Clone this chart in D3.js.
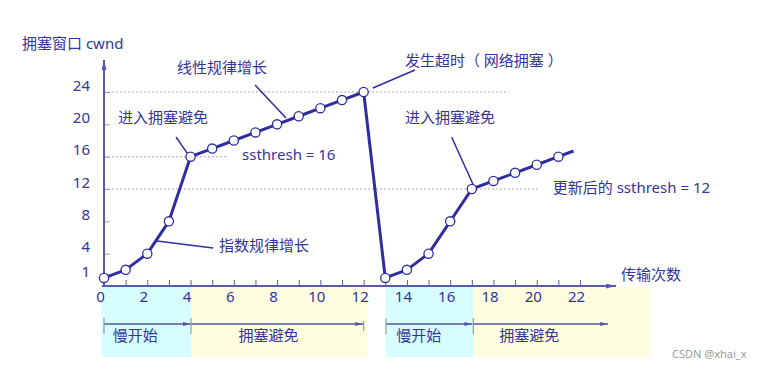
<!DOCTYPE html>
<html>
<head>
<meta charset="utf-8">
<script src="https://cdn.jsdelivr.net/npm/d3@7"></script>
<style>
  body { margin: 0; background: #fff; }
  svg text { font-family: "Noto Sans", "Noto Sans CJK SC", sans-serif; }
</style>
</head>
<body>
<div id="mainChart"></div>
<script>
// transmission rounds and congestion window values
const rounds = [0, 1, 2, 3, 4, 5, 6, 7, 8, 9, 10, 11, 12, 13, 14, 15, 16, 17, 18, 19, 20, 21];
const cwnd   = [1, 2, 4, 8, 16, 17, 18, 19, 20, 21, 22, 23, 24, 1, 2, 4, 8, 12, 13, 14, 15, 16];
// line keeps going a bit past the last marker
const tailRound = 21.7;
const tailCwnd = 16.7;

const yTickValues = [1, 4, 8, 12, 16, 20, 24];
const xTickValues = [0, 1, 2, 3, 4, 5, 6, 7, 8, 9, 10, 11, 12, 13, 14, 15, 16, 17, 18, 19, 20, 21, 22];

// threshold guide lines: value, end round
const guideValues = [24, 16, 12];
const guideEnds = [18.7, 5.7, 20.1];

// phases under the axis
const phaseNames = ['慢开始', '拥塞避免', '慢开始', '拥塞避免'];
const phaseStart = [-0.1, 4.02, 13.03, 17.07];
const phaseEnd = [4.02, 12.17, 17.07, 25.25];
const phaseArrowStart = [0, 4.02, 13.03, 17.07];
const phaseArrowEnd = [4.0, 11.98, 17.03, 23.3];
const phaseLabelX = [1.45, 7.6, 14.55, 19.65];
const phaseColors = ['#d7fdfe', '#fefde0', '#d7fdfe', '#fefde0'];

// annotation texts (round, cwnd of the text start) and their leader lines
const noteTexts = ['线性规律增长', '发生超时（ 网络拥塞 ）', '进入拥塞避免', 'ssthresh = 16',
                   '指数规律增长', '进入拥塞避免', '更新后的 ssthresh = 12', '传输次数'];
const noteX = [3.37, 13.91, 0.65, 6.38, 5.32, 13.91, 20.74, 23.9];
const noteY = [26.97, 27.84, 20.78, 16.2, 4.95, 20.78, 12.21, 1.36];
const leaderFrom = [[6.98, 24.87], [14.37, 26.72], [3.33, 18.43], [2.45, 5.57], [16.07, 18.4]];
const leaderTo   = [[8.41, 20.78], [12.43, 24.5], [3.85, 16.4], [5.04, 4.7], [17.07, 12.5]];

const W = 763, H = 369;
const TEXT = '#34349a';
const AXIS = '#5a5aaa';
const LINE = '#2e2e9e';

const x = d3.scaleLinear().domain([0, 22]).range([104, 580]);
const y = d3.scaleLinear().domain([0, 24]).range([286, 92]);

const svg = d3.select('#mainChart')
    .append('svg')
    .attr('width', W)
    .attr('height', H);

svg.append('rect').attr('width', W).attr('height', H).attr('fill', '#fff');

const defs = svg.append('defs');
const addArrow = (id, color, size) => {
    defs.append('marker')
        .attr('id', id)
        .attr('markerUnits', 'userSpaceOnUse')
        .attr('markerWidth', size * 2)
        .attr('markerHeight', size)
        .attr('refX', size * 2)
        .attr('refY', size / 2)
        .attr('orient', 'auto')
        .append('path')
        .attr('d', `M0,0L${size * 2},${size / 2}L0,${size}Z`)
        .attr('fill', color);
};
addArrow('axisArrow', AXIS, 5);
addArrow('phaseArrow', '#5656a6', 4);

// phase bands under the x axis
svg.append('g')
    .selectAll('rect')
    .data(phaseNames)
    .join('rect')
    .attr('x', (d, i) => x(phaseStart[i]))
    .attr('width', (d, i) => x(phaseEnd[i]) - x(phaseStart[i]))
    .attr('y', 287)
    .attr('height', 70)
    .attr('fill', (d, i) => phaseColors[i]);

// phase arrows
const phaseG = svg.append('g');
phaseNames.forEach((name, i) => {
    phaseG.append('line')
        .attr('x1', x(phaseArrowStart[i]))
        .attr('x2', x(phaseArrowEnd[i]))
        .attr('y1', 324).attr('y2', 324)
        .attr('stroke', '#5656a6')
        .attr('stroke-width', 1.5)
        .attr('marker-end', 'url(#phaseArrow)');
    phaseG.append('line')
        .attr('x1', x(phaseArrowStart[i]))
        .attr('x2', x(phaseArrowStart[i]))
        .attr('y1', 318).attr('y2', 334)
        .attr('stroke', '#8aa0a8')
        .attr('stroke-width', 1.2);
    phaseG.append('text')
        .attr('x', x(phaseLabelX[i]))
        .attr('y', 336)
        .attr('dy', '0.35em')
        .attr('text-anchor', 'middle')
        .attr('font-size', 15)
        .attr('fill', TEXT)
        .text(name);
});
phaseG.append('line')
    .attr('x1', x(12)).attr('x2', x(12))
    .attr('y1', 321).attr('y2', 331)
    .attr('stroke', '#8aa0a8')
    .attr('stroke-width', 1.2);

// dotted guides
svg.append('g')
    .selectAll('line')
    .data(guideValues)
    .join('line')
    .attr('x1', x(0))
    .attr('x2', (d, i) => x(guideEnds[i]))
    .attr('y1', d => y(d))
    .attr('y2', d => y(d))
    .attr('stroke', '#a6a6c6')
    .attr('stroke-width', 1)
    .attr('stroke-dasharray', '2,2');

// x axis
const xAxisG = svg.append('g')
    .attr('transform', `translate(0, ${y(0)})`)
    .call(d3.axisBottom(x)
        .tickValues(xTickValues)
        .tickSize(-6)
        .tickPadding(5)
        .tickFormat(d => d % 2 === 0 ? d : ''));
xAxisG.select('.domain').remove();
xAxisG.selectAll('.tick line').attr('stroke', AXIS);
xAxisG.selectAll('text')
    .attr('font-size', 15)
    .attr('dx', -4)
    .attr('fill', TEXT);

// y axis
const yAxisG = svg.append('g')
    .attr('transform', `translate(${x(0)}, 0)`)
    .call(d3.axisLeft(y)
        .tickValues(yTickValues)
        .tickSize(-6)
        .tickPadding(14));
yAxisG.select('.domain').remove();
yAxisG.selectAll('.tick line').attr('stroke', '#9a9ab8');
yAxisG.selectAll('text')
    .attr('font-size', 15)
    .attr('dy', '-0.12em')
    .attr('fill', TEXT);

svg.append('line')
    .attr('x1', x(0) - 2).attr('x2', 616)
    .attr('y1', y(0)).attr('y2', y(0))
    .attr('stroke', AXIS)
    .attr('stroke-width', 2)
    .attr('marker-end', 'url(#axisArrow)');
svg.append('line')
    .attr('x1', x(0)).attr('x2', x(0))
    .attr('y1', y(0)).attr('y2', 60)
    .attr('stroke', AXIS)
    .attr('stroke-width', 2)
    .attr('marker-end', 'url(#axisArrow)');

svg.append('text')
    .attr('x', 22)
    .attr('y', 44)
    .attr('dy', '0.35em')
    .attr('font-size', 15)
    .attr('fill', TEXT)
    .text('拥塞窗口 cwnd');

// annotations
svg.append('g')
    .selectAll('line')
    .data(leaderFrom)
    .join('line')
    .attr('x1', d => x(d[0]))
    .attr('y1', d => y(d[1]))
    .attr('x2', (d, i) => x(leaderTo[i][0]))
    .attr('y2', (d, i) => y(leaderTo[i][1]))
    .attr('stroke', LINE)
    .attr('stroke-width', 1.5);

svg.append('g')
    .selectAll('text')
    .data(noteTexts)
    .join('text')
    .attr('x', (d, i) => x(noteX[i]))
    .attr('y', (d, i) => y(noteY[i]))
    .attr('dy', '0.35em')
    .attr('font-size', 15)
    .attr('fill', TEXT)
    .text(d => d);

// cwnd line
const points = rounds.map((r, i) => [r, cwnd[i]]);
const linePoints = points.concat([[tailRound, tailCwnd]]);
svg.append('path')
    .attr('d', d3.line().x(d => x(d[0])).y(d => y(d[1]))(linePoints))
    .attr('fill', 'none')
    .attr('stroke', LINE)
    .attr('stroke-width', 3)
    .attr('stroke-linejoin', 'round');

svg.append('g')
    .selectAll('circle')
    .data(points)
    .join('circle')
    .attr('cx', d => x(d[0]))
    .attr('cy', d => y(d[1]))
    .attr('r', 4.6)
    .attr('fill', '#fff')
    .attr('stroke', LINE)
    .attr('stroke-width', 1.3);

svg.append('text')
    .attr('x', 672)
    .attr('y', 354)
    .attr('dy', '0.35em')
    .attr('font-size', 11)
    .attr('fill', '#9a9a9a')
    .text('CSDN @xhai_x');
</script>
</body>
</html>
